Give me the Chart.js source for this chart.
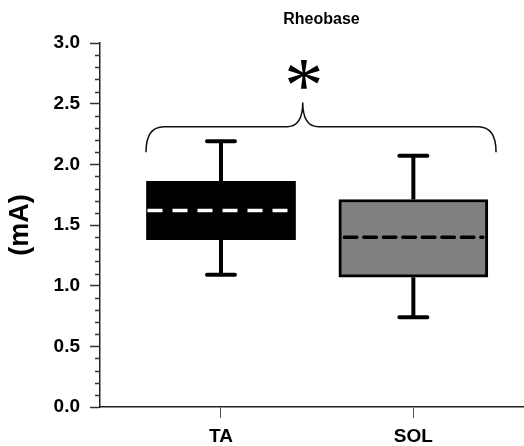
<!DOCTYPE html>
<html>
<head>
<meta charset="utf-8">
<script src="https://cdn.jsdelivr.net/npm/chart.js@4/dist/chart.umd.min.js"></script>
<style>
html, body { margin: 0; padding: 0; background: #fff; }
</style>
</head>
<body>
<canvas id="rheobase" width="524" height="446"></canvas>
<script>
// five-number summaries per muscle
var groups = ['TA', 'SOL'];
var groupPos = [1, 2];
var whiskerLow = [1.09, 0.74];
var boxLow = [1.38, 1.07];
var medians = [1.62, 1.40];
var boxHigh = [1.86, 1.71];
var whiskerHigh = [2.19, 2.07];
var boxColors = ['#000000', '#808080'];
var medianColors = ['#ffffff', '#000000'];

var yTicks = [0, 0.5, 1, 1.5, 2, 2.5, 3];
var yMinorStep = 0.1;

// significance brace over both boxes
var braceX = [0.61, 1.425, 2.43];   // left end, tip, right end
var braceY = [2.10, 2.31, 2.51];    // ends, bar, tip
var starAt = [1.43, 2.74];

var FONT = '"Liberation Sans", Arial, sans-serif';

function drawMedians(chart) {
	var ctx = chart.ctx;
	var y = chart.scales.y;
	var bars = chart.getDatasetMeta(0).data;
	ctx.save();
	for (var i = 0; i < bars.length; i++) {
		var b = bars[i];
		var left = b.x - b.width / 2;
		var right = b.x + b.width / 2;
		var py = y.getPixelForValue(medians[i]);
		ctx.strokeStyle = medianColors[i];
		ctx.lineWidth = 3.5;
		ctx.beginPath();
		if (i == 0) {
			ctx.lineCap = 'butt';
			ctx.setLineDash([15, 10]);
			ctx.moveTo(left + 1, py);
			ctx.lineTo(right - 4, py);
		} else {
			ctx.lineCap = 'round';
			ctx.setLineDash([12.5, 7]);
			ctx.moveTo(left + 5.5, py);
			ctx.lineTo(right - 5, py);
		}
		ctx.stroke();
	}
	ctx.restore();
}

function drawBrace(chart) {
	var ctx = chart.ctx, x = chart.scales.x, y = chart.scales.y;
	var x0 = x.getPixelForValue(braceX[0]);
	var xc = x.getPixelForValue(braceX[1]);
	var x1 = x.getPixelForValue(braceX[2]);
	var yEnd = y.getPixelForValue(braceY[0]);
	var yBar = y.getPixelForValue(braceY[1]);
	var yTip = y.getPixelForValue(braceY[2]);
	var r = 18, rc = 16;
	ctx.save();
	ctx.strokeStyle = '#111';
	ctx.lineWidth = 1.5;
	ctx.beginPath();
	ctx.moveTo(x0, yEnd);
	ctx.quadraticCurveTo(x0, yBar, x0 + r, yBar);
	ctx.lineTo(xc - rc, yBar);
	ctx.quadraticCurveTo(xc, yBar, xc, yTip);
	ctx.quadraticCurveTo(xc, yBar, xc + rc, yBar);
	ctx.lineTo(x1 - r, yBar);
	ctx.quadraticCurveTo(x1, yBar, x1, yEnd);
	ctx.stroke();

	// asterisk, sized and centred by its ink box
	var cx = x.getPixelForValue(starAt[0]);
	var cy = y.getPixelForValue(starAt[1]);
	ctx.font = '100px "Liberation Serif", serif';
	var m = ctx.measureText('*');
	var h = m.actualBoundingBoxAscent + m.actualBoundingBoxDescent;
	var size = 100 * 29 / h;
	ctx.font = size + 'px "Liberation Serif", serif';
	m = ctx.measureText('*');
	ctx.fillStyle = '#000';
	ctx.textAlign = 'left';
	ctx.textBaseline = 'alphabetic';
	ctx.fillText('*',
		cx - (m.actualBoundingBoxRight - m.actualBoundingBoxLeft) / 2,
		cy + (m.actualBoundingBoxAscent - m.actualBoundingBoxDescent) / 2);
	ctx.restore();
}

var boxPlotExtras = {
	id: 'boxPlotExtras',
	beforeDatasetsDraw: function(chart) {
		// whiskers go under the boxes
		var ctx = chart.ctx, x = chart.scales.x, y = chart.scales.y;
		ctx.save();
		ctx.strokeStyle = '#000';
		for (var i = 0; i < groups.length; i++) {
			var px = x.getPixelForValue(groupPos[i]);
			var top = y.getPixelForValue(whiskerHigh[i]);
			var bot = y.getPixelForValue(whiskerLow[i]);
			ctx.lineWidth = 4;
			ctx.lineCap = 'butt';
			ctx.beginPath();
			ctx.moveTo(px, top);
			ctx.lineTo(px, y.getPixelForValue(boxHigh[i]));
			ctx.moveTo(px, y.getPixelForValue(boxLow[i]));
			ctx.lineTo(px, bot);
			ctx.stroke();
			ctx.lineCap = 'round';
			ctx.beginPath();
			ctx.moveTo(px - 14, top);
			ctx.lineTo(px + 14, top);
			ctx.moveTo(px - 14, bot);
			ctx.lineTo(px + 14, bot);
			ctx.stroke();
		}
		ctx.restore();
	},
	afterDatasetsDraw: function(chart) {
		drawMedians(chart);
		drawBrace(chart);
	},
	afterDraw: function(chart) {
		var ctx = chart.ctx, y = chart.scales.y;
		var ax = chart.chartArea.left;
		ctx.save();
		// minor ticks on the y axis
		ctx.strokeStyle = '#333';
		ctx.lineWidth = 1.5;
		ctx.beginPath();
		for (var v = yMinorStep; v < y.max; v += yMinorStep) {
			if (Math.abs(v * 2 - Math.round(v * 2)) < 1e-6) continue;
			var py = Math.round(y.getPixelForValue(v)) + 0.5;
			ctx.moveTo(ax - 5, py);
			ctx.lineTo(ax, py);
		}
		ctx.stroke();
		// heading
		ctx.fillStyle = '#000';
		ctx.font = 'bold 16px ' + FONT;
		ctx.textAlign = 'center';
		ctx.textBaseline = 'alphabetic';
		ctx.fillText('Rheobase', (chart.chartArea.left + chart.chartArea.right) / 2 + 10, 24);
		ctx.restore();
	}
};

var boxData = [];
for (var i = 0; i < groups.length; i++) {
	boxData.push({x: groupPos[i], y: [boxLow[i], boxHigh[i]]});
}

new Chart(document.getElementById('rheobase'), {
	type: 'bar',
	data: {
		datasets: [{
			label: 'Rheobase',
			data: boxData,
			backgroundColor: boxColors,
			borderColor: '#000',
			borderWidth: [0, 3],
			borderSkipped: false,
			barThickness: 149
		}]
	},
	options: {
		responsive: false,
		animation: false,
		layout: {padding: {top: 43, right: 1, left: 0, bottom: 0}},
		plugins: {
			legend: {display: false},
			tooltip: {enabled: false},
			title: {display: false}
		},
		scales: {
			x: {
				type: 'linear',
				min: 0.371,
				max: 2.57,
				offset: false,
				afterFit: function(s) { s.height = 39; },
				afterBuildTicks: function(s) {
					s.ticks = groupPos.map(function(v) { return {value: v}; });
				},
				grid: {drawOnChartArea: false, offset: false, tickLength: 11, tickColor: '#555', tickWidth: 1},
				border: {display: true, color: '#222', width: 1.5},
				ticks: {
					padding: 7,
					color: '#000',
					font: {family: FONT, size: 19, weight: 'bold'},
					callback: function(v) { return groups[groupPos.indexOf(v)]; }
				}
			},
			y: {
				min: 0,
				max: 3,
				afterFit: function(s) { s.width = 100; },
				afterBuildTicks: function(s) {
					s.ticks = yTicks.map(function(v) { return {value: v}; });
				},
				grid: {drawOnChartArea: false, tickLength: 10, tickColor: '#333', tickWidth: 1.5},
				border: {display: true, color: '#222', width: 1.5},
				ticks: {
					padding: 10,
					color: '#000',
					font: {family: FONT, size: 19, weight: 'bold'},
					callback: function(v) { return v.toFixed(1); }
				},
				title: {
					display: true,
					text: '(mA)',
					color: '#000',
					padding: {top: 4, bottom: 0},
					font: {family: FONT, size: 27, weight: 'bold'}
				}
			}
		}
	},
	plugins: [boxPlotExtras]
});
</script>
</body>
</html>
